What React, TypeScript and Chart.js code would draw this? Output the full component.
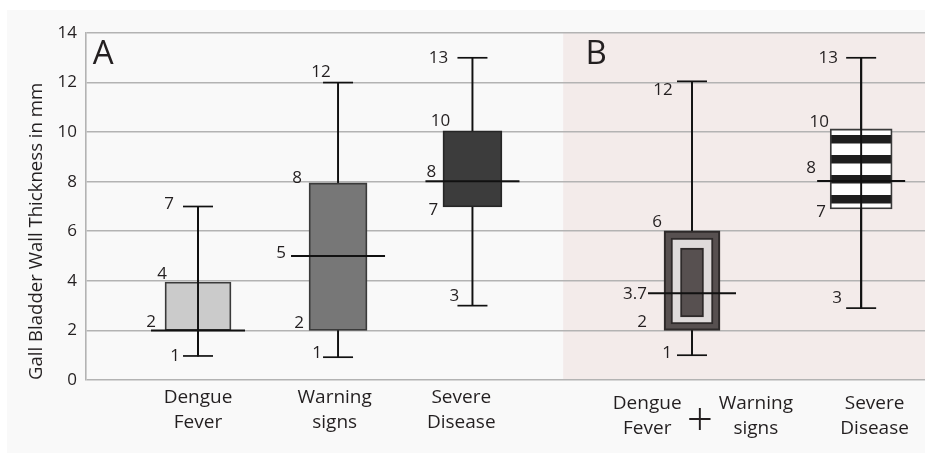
import React, { useEffect, useRef } from 'react';
import { Chart, registerables } from 'chart.js';

Chart.register(...registerables);

// ---------- data ----------
// x slot (linear axis value) of each box
const BOX_POS = [1.0, 2.25, 3.45, 5.41, 6.92];
const BOX_MIN = [0.97, 0.92, 3.0, 1.0, 2.9];
const BOX_Q1 = [2.0, 2.0, 6.98, 2.0, 6.9];
const BOX_MEDIAN = [2.0, 5.0, 8.02, 3.5, 8.03];
const BOX_Q3 = [3.95, 7.95, 10.05, 6.02, 10.13];
const BOX_MAX = [7.0, 12.0, 13.0, 12.05, 13.0];
// whisker visible through the box
const WHISKER_THROUGH = [true, false, false, false, true];
// nested decorative layers inside the combined (Dengue Fever + Warning signs) box
const COMBINED_LAYER_LO = [2.26, 2.55];
const COMBINED_LAYER_HI = [5.73, 5.32];

// value annotations written next to each box
const ANNOT_TEXT = [
  ['7', '4', '2', '1'],
  ['12', '8', '5', '2', '1'],
  ['13', '10', '8', '7', '3'],
  ['12', '6', '3.7', '2', '1'],
  ['13', '10', '8', '7', '3'],
];
const ANNOT_VALUE = [
  [7, 4, 2, 1],
  [12, 8, 5, 2, 1],
  [13, 10, 8, 7, 3],
  [12, 6, 3.5, 2, 1],
  [13, 10, 8, 7, 2.9],
];

// category labels under the axis
const X_LABEL_POS = [1.0, 2.22, 3.35, 5.01, 5.48, 5.98, 7.04];
const X_LABEL_LINES = [
  ['Dengue', 'Fever'],
  ['Warning', 'signs'],
  ['Severe', 'Disease'],
  ['Dengue', 'Fever'],
  ['+'],
  ['Warning', 'signs'],
  ['Severe', 'Disease'],
];
const X_LABEL_PANEL = [0, 0, 0, 1, 1, 1, 1];

// panels
const PANEL_LABELS = ['A', 'B'];
const PANEL_LABEL_POS = [0.06, 4.46];
const SHADED_FROM = 4.26;

const Y_TICKS_MAX = 14;
const Y_STEP = 2;
const Y_TITLE = 'Gall Bladder Wall Thickness in mm';

// ---------- style ----------
const FONT = "'Open Sans', 'Noto Sans', sans-serif";
const TEXT = '#231f20';
const GRID = '#b3b3b3';
const BOX_WIDTH_PX = [66, 58, 59, 56, 62];
const MEDIAN_HALF_PX = [47, 47, 47, 44, 44];
const CAP_HALF_PX = 15;
const BOX_FILL = ['#cbcbcb', '#777777', '#3c3c3c', '#575050', 'STRIPES'];
const BOX_BORDER = ['#3a3a3a', '#3a3a3a', '#262626', '#2e2a2a', '#3a3a3a'];
const LAYER_FILL = ['#dfdbdb', '#575050'];
const LAYER_WIDTH_PX = [42, 23];
const ANNOT_OFFSET = [
  [[-29, -2], [-36, -7], [-47, -8], [-23, 1]],
  [[-17, -10], [-41, -4], [-57, -3], [-39, -7], [-21, -2]],
  [[-34, 0], [-32, -11], [-41, -10], [-39, 4], [-18, -9]],
  [[-29, 8], [-35, -9], [-57, 1], [-50, -8], [-25, -2]],
  [[-33, 0], [-42, -10], [-50, -14], [-40, 6], [-24, -10]],
];
const X_LABEL_ROW_OFFSET = [18, 24];

function makeStripes(): CanvasPattern | string {
  const c = document.createElement('canvas');
  c.width = 4;
  c.height = 20;
  const g = c.getContext('2d');
  if (!g) return '#ffffff';
  g.fillStyle = '#ffffff';
  g.fillRect(0, 0, 4, 20);
  g.fillStyle = '#1e1e1e';
  g.fillRect(0, 0, 4, 3.5);
  g.fillRect(0, 15, 4, 5);
  return g.createPattern(c, 'repeat') || '#ffffff';
}

const decorPlugin = {
  id: 'decor',
  beforeDraw(chart: any) {
    const { ctx, chartArea, scales } = chart;
    const x = scales.x;
    ctx.save();
    ctx.fillStyle = '#ffffff';
    ctx.fillRect(0, 0, chart.width, chart.height);
    ctx.fillStyle = '#f9f9f9';
    ctx.fillRect(7, 10, chart.width - 7, chart.height - 12);
    const xs = x.getPixelForValue(SHADED_FROM);
    ctx.fillStyle = '#f3ebea';
    ctx.fillRect(xs, chartArea.top, chartArea.right - xs, chartArea.bottom - chartArea.top);
    ctx.restore();
  },
  afterDatasetsDraw(chart: any) {
    const { ctx, chartArea, scales } = chart;
    const x = scales.x;
    const y = scales.y;
    ctx.save();
    ctx.fillStyle = TEXT;
    ctx.textAlign = 'center';
    ctx.textBaseline = 'middle';
    // annotations
    ctx.font = `17px ${FONT}`;
    ANNOT_TEXT.forEach((texts, b) => {
      const cx = x.getPixelForValue(BOX_POS[b]);
      texts.forEach((t, k) => {
        const [dx, dy] = ANNOT_OFFSET[b][k];
        ctx.fillText(t, cx + dx, y.getPixelForValue(ANNOT_VALUE[b][k]) + dy);
      });
    });
    // panel letters
    ctx.textAlign = 'left';
    ctx.font = `33px ${FONT}`;
    PANEL_LABELS.forEach((l, i) => {
      ctx.fillText(l, x.getPixelForValue(PANEL_LABEL_POS[i]), chartArea.top + 22);
    });
    // category labels
    ctx.textAlign = 'center';
    X_LABEL_LINES.forEach((lines, i) => {
      const cx = x.getPixelForValue(X_LABEL_POS[i]);
      const base = chartArea.bottom + X_LABEL_ROW_OFFSET[X_LABEL_PANEL[i]];
      if (lines.length === 1) {
        ctx.font = `300 46px ${FONT}`;
        ctx.fillText(lines[0], cx, base + 18);
      } else {
        ctx.font = `19px ${FONT}`;
        lines.forEach((ln, j) => ctx.fillText(ln, cx, base + j * 25));
      }
    });
    ctx.restore();
  },
};

export default function App() {
  const ref = useRef<HTMLCanvasElement | null>(null);

  useEffect(() => {
    if (!ref.current) return;
    const stripes = makeStripes();
    const datasets: any[] = [];

    // whiskers behind boxes
    datasets.push({
      type: 'bar',
      data: BOX_POS.map((p, i) => ({ x: p, y: [BOX_MIN[i], BOX_MAX[i]] })),
      backgroundColor: '#111111',
      borderWidth: 0,
      barThickness: 1.3,
      grouped: false,
      order: 20,
    });
    // boxes
    BOX_POS.forEach((p, i) => {
      datasets.push({
        type: 'bar',
        data: [{ x: p, y: [BOX_Q1[i], BOX_Q3[i]] }],
        backgroundColor: BOX_FILL[i] === 'STRIPES' ? stripes : BOX_FILL[i],
        borderColor: BOX_BORDER[i],
        borderWidth: i === 3 ? 2.2 : 1.8,
        borderSkipped: false,
        barThickness: BOX_WIDTH_PX[i],
        grouped: false,
        order: 15,
      });
    });
    // nested layers of combined box
    COMBINED_LAYER_LO.forEach((lo, k) => {
      datasets.push({
        type: 'bar',
        data: [{ x: BOX_POS[3], y: [lo, COMBINED_LAYER_HI[k]] }],
        backgroundColor: LAYER_FILL[k],
        borderColor: '#2e2a2a',
        borderWidth: 2,
        borderSkipped: false,
        barThickness: LAYER_WIDTH_PX[k],
        grouped: false,
        order: 12 - k,
      });
    });
    // whiskers drawn through boxes
    datasets.push({
      type: 'bar',
      data: BOX_POS.map((p, i) => ({ x: p, y: [BOX_MIN[i], BOX_MAX[i]] })).filter((_, i) => WHISKER_THROUGH[i]),
      backgroundColor: '#111111',
      borderWidth: 0,
      barThickness: 1.3,
      grouped: false,
      order: 5,
    });
    // medians
    datasets.push({
      type: 'line',
      data: BOX_POS.map((p, i) => ({ x: p, y: BOX_MEDIAN[i] })),
      showLine: false,
      pointStyle: 'line',
      pointRadius: (c: any) => MEDIAN_HALF_PX[c.dataIndex] ?? 45,
      pointBorderWidth: 2,
      pointBorderColor: '#111111',
      pointBackgroundColor: 'rgba(0,0,0,0)',
      clip: false,
      order: 2,
    });
    // caps
    datasets.push({
      type: 'line',
      data: [
        ...BOX_POS.map((p, i) => ({ x: p, y: BOX_MAX[i] })),
        ...BOX_POS.map((p, i) => ({ x: p, y: BOX_MIN[i] })),
      ],
      showLine: false,
      pointStyle: 'line',
      pointRadius: CAP_HALF_PX,
      pointBorderWidth: 1.7,
      pointBorderColor: '#111111',
      pointBackgroundColor: 'rgba(0,0,0,0)',
      clip: false,
      order: 1,
    });

    const chart = new Chart(ref.current, {
      type: 'bar',
      data: { datasets },
      options: {
        animation: false,
        responsive: false,
        devicePixelRatio: 1,
        events: [],
        layout: { autoPadding: false, padding: { top: 33, left: 0, right: 0, bottom: 0 } },
        plugins: { legend: { display: false }, tooltip: { enabled: false } },
        scales: {
          x: {
            type: 'linear',
            min: 0,
            max: 7.49,
            offset: false,
            grid: { display: false },
            border: { display: false },
            ticks: { display: false },
            afterFit: (s: any) => {
              s.height = 75;
            },
          },
          y: {
            min: 0,
            max: Y_TICKS_MAX,
            ticks: {
              stepSize: Y_STEP,
              color: TEXT,
              font: { family: FONT, size: 17 },
              padding: 9,
            },
            grid: { color: GRID, lineWidth: 1.6, drawTicks: false },
            border: { color: GRID, width: 1.6 },
            title: {
              display: true,
              text: Y_TITLE,
              color: TEXT,
              align: 'start',
              font: { family: FONT, size: 18.6 },
              padding: { top: 26, bottom: 0 },
            },
            afterFit: (s: any) => {
              s.width = 86;
            },
          },
        },
      } as any,
      plugins: [decorPlugin],
    });
    return () => chart.destroy();
  }, []);

  return (
    <div style={{ position: 'absolute', left: 0, top: 0, width: 925, height: 455, background: '#fff' }}>
      <canvas ref={ref} width={925} height={455} style={{ display: 'block', width: 925, height: 455 }} />
    </div>
  );
}
